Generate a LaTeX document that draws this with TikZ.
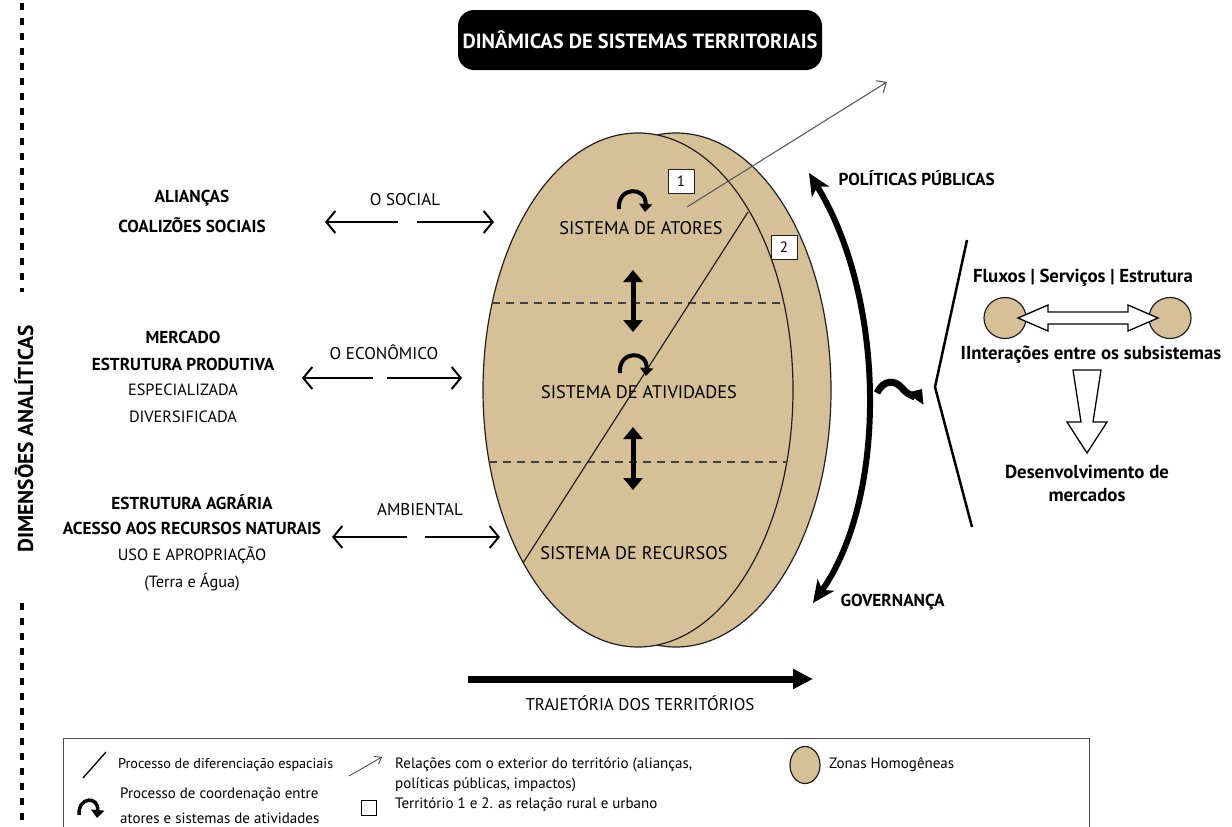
\documentclass[tikz,border=0pt]{standalone}
\usepackage{fontspec}
\setmainfont{PT Sans}
\usetikzlibrary{arrows.meta}
\usetikzlibrary{shapes.geometric}
\definecolor{zona}{RGB}{213,192,152}
\definecolor{contorno}{RGB}{35,31,32}

\begin{document}
\begin{tikzpicture}[x=1pt,y=-1pt,
  txt/.style={font=\fontsize{16.3}{19}\selectfont},
  btxt/.style={font=\fontsize{17.3}{20}\selectfont\bfseries},
  sys/.style={font=\fontsize{18.3}{21}\selectfont},
  dimtxt/.style={font=\fontsize{17}{20}\selectfont},
  rtxt/.style={font=\fontsize{18.8}{22}\selectfont\bfseries},
  leg/.style={font=\fontsize{15}{18}\selectfont, anchor=west, inner sep=0pt},
  zone/.style={ellipse, draw=contorno, fill=zona, line width=1.2pt, inner sep=0pt},
  numbox/.style={draw=contorno, fill=white, line width=0.8pt, minimum width=26pt, minimum height=24pt, inner sep=0pt, font=\fontsize{15}{18}\selectfont},
  sidearr/.style={-{Straight Barb[length=9pt,width=22pt]}, line width=2pt},
  extarr/.style={-{Straight Barb[length=8pt,width=14pt]}, line width=1.1pt, draw=black!65},
  coord/.style={-{Triangle[length=8pt,width=13pt]}, line width=4pt},
  updown/.style={{Triangle[length=12pt,width=19pt]}-{Triangle[length=12pt,width=19pt]}, line width=5pt},
  divline/.style={dash pattern=on 8pt off 6pt, line width=1.2pt, draw=black!75},
  dimline/.style={line width=3.5pt, dash pattern=on 7pt off 8pt}]

\path[use as bounding box, clip] (0,0) rectangle (1232,827);

% dimensoes analiticas
\draw[dimline] (22,3) -- (22,292);
\draw[dimline] (22,603) -- (22,835);
\node[font=\fontsize{21.5}{24}\selectfont\bfseries, rotate=90] (dim) at (24,439) {DIMENSÕES ANALÍTICAS};

% titulo
\node[fill=black, text=white, rounded corners=16pt, minimum width=364pt, minimum height=60pt,
      font=\fontsize{20.5}{24}\selectfont\bfseries] (ttl) at (640,40) {DINÂMICAS DE SISTEMAS TERRITORIAIS};

% territorios 2 e 1
\node[zone, minimum width=310pt, minimum height=514pt] (ter2) at (676,390) {};
\node[zone, minimum width=310pt, minimum height=514pt] (ter1) at (638,390) {};
\draw[divline] (492,303) -- (784,303);
\draw[divline] (489,462) -- (787,462);
\draw[line width=1.2pt, contorno] (523,563) -- (748,212);

\node[numbox] (n1) at (681,181) {1};
\node[numbox] (n2) at (784,247) {2};
\coordinate (relA) at (687,207);
\coordinate (relB) at (887,82);
\draw[extarr] (relA) -- (relB);

% subsistemas
\node[sys] (atores) at (641,228) {SISTEMA DE ATORES};
\node[sys] (ativ) at (639,392) {SISTEMA DE ATIVIDADES};
\node[sys] (recur) at (634,553) {SISTEMA DE RECURSOS};
\draw[coord] (619,209) .. controls (617,186) and (647,186) .. (645,212);
\draw[coord] (620,373) .. controls (618,350) and (648,350) .. (646,376);
\draw[updown] (633,270) -- (633,332);
\draw[updown] (633,427) -- (633,490);

% dimensoes (esquerda)
\node[btxt] (ali1) at (192,198) {ALIANÇAS};
\node[btxt] (ali2) at (192,225) {COALIZÕES SOCIAIS};
\node[btxt] (mer1) at (183,337) {MERCADO};
\node[btxt] (mer2) at (183,364) {ESTRUTURA PRODUTIVA};
\node[txt] (mer3) at (183,390) {ESPECIALIZADA};
\node[txt] (mer4) at (183,417) {DIVERSIFICADA};
\node[btxt] (agr1) at (192,502) {ESTRUTURA AGRÁRIA};
\node[btxt] (agr2) at (192,528) {ACESSO AOS RECURSOS NATURAIS};
\node[txt] (agr3) at (192,555) {USO E APROPRIAÇÃO};
\node[txt] (agr4) at (192,582) {(Terra e Água)};

\node[dimtxt] (soc) at (405,200) {O SOCIAL};
\node[dimtxt] (eco) at (384,352) {O ECONÔMICO};
\node[dimtxt] (amb) at (420,510) {AMBIENTAL};
\coordinate (socL) at (325,222); \coordinate (socM) at (398,222);
\coordinate (socN) at (417,222); \coordinate (socR) at (494,222);
\coordinate (ecoL) at (302,378); \coordinate (ecoM) at (373,378);
\coordinate (ecoN) at (387,378); \coordinate (ecoR) at (462,378);
\coordinate (ambL) at (332,537); \coordinate (ambM) at (407,537);
\coordinate (ambN) at (425,537); \coordinate (ambR) at (500,537);
\draw[sidearr] (socM) -- (socL);
\draw[sidearr] (socN) -- (socR);
\draw[sidearr] (ecoM) -- (ecoL);
\draw[sidearr] (ecoN) -- (ecoR);
\draw[sidearr] (ambM) -- (ambL);
\draw[sidearr] (ambN) -- (ambR);

% politicas publicas / governanca
\coordinate (polT) at (809,173);
\coordinate (govB) at (813,603);
\draw[{Stealth[length=22pt,width=20pt,inset=6pt]}-{Stealth[length=22pt,width=20pt,inset=6pt]}, line width=6pt]
  (polT) .. controls (887,300) and (887,499) .. (govB);
\node[btxt, anchor=west] (pol) at (835,178) {POLÍTICAS PÚBLICAS};
\node[btxt, anchor=west] (gov) at (837,602) {GOVERNANÇA};

% interacoes
\coordinate (sqA) at (877,393);
\coordinate (brV) at (935,387);
\draw[-{Triangle[length=12pt,width=20pt]}, line width=7pt]
  (sqA) .. controls (884,379) and (895,380) .. (902,388) .. controls (909,397) and (917,396) .. (922,389);
\draw[line width=2.5pt] (967,240) -- (brV) -- (972,527);

\node[rtxt] (flx) at (1083,278) {Fluxos | Serviços | Estrutura};
\node[zone, minimum width=42pt, minimum height=41pt] (zA) at (1005,318) {};
\node[zone, minimum width=42pt, minimum height=41pt] (zB) at (1170,318) {};
\draw[fill=white, line width=1.3pt] (1018,318) -- (1048,305) -- (1048,312) -- (1128,312) -- (1128,305)
  -- (1158,318) -- (1128,331) -- (1128,324) -- (1048,324) -- (1048,331) -- cycle;
\node[rtxt] (int) at (1091,355) {IInterações entre os subsistemas};
\draw[fill=white, line width=1.3pt] (1073,370) -- (1101,370) -- (1093,422) -- (1107,422) -- (1087,453)
  -- (1067,422) -- (1081,422) -- cycle;
\node[rtxt] (des1) at (1087,472) {Desenvolvimento de};
\node[rtxt] (des2) at (1087,495) {mercados};

% trajetoria
\coordinate (trA) at (468,679);
\coordinate (trB) at (813,679);
\draw[-{Triangle[length=20pt,width=19pt]}, line width=7pt] (trA) -- (trB);
\node[dimtxt] (traj) at (640,703) {TRAJETÓRIA DOS TERRITÓRIOS};

% legenda
\draw[line width=1pt, black!70] (63,738) rectangle (1089,850);
\draw[line width=1.3pt] (83,778) -- (106,752);
\node[leg, font=\fontsize{14.2}{17}\selectfont] (l1) at (118,765) {Processo de diferenciação espaciais};
\draw[coord, line width=3.5pt] (79,815) .. controls (78,796) and (99,796) .. (97,818);
\node[leg] (l2a) at (120,795) {Processo de coordenação entre};
\node[leg] (l2b) at (120,818) {atores e sistemas de atividades};
\draw[-{Straight Barb[length=6pt,width=9pt]}, line width=0.8pt, black!75] (349,776) -- (382,757);
\node[leg] (l3a) at (395,765) {Relações com o exterior do território (alianças,};
\node[leg] (l3b) at (395,785) {políticas públicas, impactos)};
\node[draw, line width=1pt, minimum size=15pt, inner sep=0pt] (sq) at (369,808) {};
\node[leg] (l4) at (395,805) {Território 1 e 2. as relação rural e urbano};
\node[zone, minimum width=30pt, minimum height=37pt] (zh) at (805,765) {};
\node[leg] (l5) at (829,765) {Zonas Homogêneas};
\end{tikzpicture}
\end{document}
